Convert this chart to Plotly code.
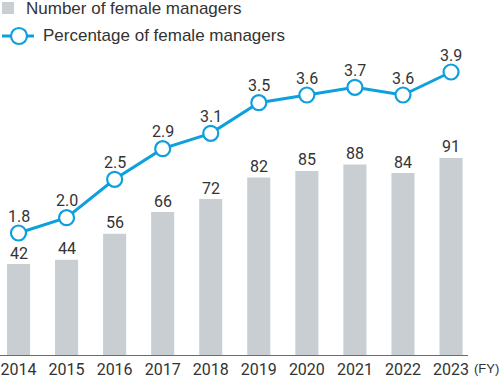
import plotly.graph_objects as go

years = ["2014", "2015", "2016", "2017", "2018", "2019", "2020", "2021", "2022", "2023"]
managers = [42, 44, 56, 66, 72, 82, 85, 88, 84, 91]
percentage = [1.8, 2.0, 2.5, 2.9, 3.1, 3.5, 3.6, 3.7, 3.6, 3.9]

BAR = "#c9ced2"
BLUE = "#0ea0dc"
TXT = "#333333"
NUM_FONT = "Roboto, Liberation Sans, sans-serif"
LEG_FONT = "Liberation Sans, Arial, Helvetica, sans-serif"

xs = list(range(len(years)))

fig = go.Figure()
fig.add_trace(go.Bar(
    x=xs, y=managers, width=0.48, marker=dict(color=BAR, line=dict(width=0)),
    showlegend=False, yaxis="y", hoverinfo="skip",
))
fig.add_trace(go.Scatter(
    x=xs, y=percentage, mode="lines+markers",
    line=dict(color=BLUE, width=3),
    marker=dict(size=15, color="white", line=dict(color=BLUE, width=2.2)),
    cliponaxis=False, showlegend=False, yaxis="y2",
))

# value labels
for x, v in zip(xs, managers):
    fig.add_annotation(x=x, y=v, xref="x", yref="y", text=str(v), showarrow=False,
                       yshift=11, font=dict(family=NUM_FONT, size=16, color=TXT))
for x, v in zip(xs, percentage):
    fig.add_annotation(x=x, y=v, xref="x", yref="y2", text=f"{v:.1f}", showarrow=False,
                       yshift=17, font=dict(family=NUM_FONT, size=16, color=TXT))

fig.update_layout(
    width=500, height=379,
    margin=dict(l=0, r=32, t=0, b=24),
    paper_bgcolor="white", plot_bgcolor="white",
    xaxis=dict(
        range=[-0.385, 9.353], tickmode="array", tickvals=xs, ticktext=years,
        showgrid=False, zeroline=False, showline=True, linecolor="#6b6b6b", linewidth=1,
        ticks="", ticklabeloverflow="allow", tickfont=dict(family=NUM_FONT, size=16, color=TXT),
    ),
    yaxis=dict(range=[0, 163.9], visible=False, showgrid=False, zeroline=False),
    yaxis2=dict(range=[0.209, 4.839], overlaying="y", visible=False, showgrid=False, zeroline=False),
)

# legend drawn manually
fig.add_shape(type="rect", xref="paper", yref="paper", x0=2/468, x1=14/468,
              y0=1-14/355, y1=1-2/355, fillcolor=BAR, line=dict(width=0))
fig.add_annotation(xref="paper", yref="paper", x=24/468, y=1-9/355, text="Number of female managers",
                   showarrow=False, xanchor="left", yanchor="middle",
                   font=dict(family=LEG_FONT, size=17, color=TXT))
fig.add_shape(type="line", xref="paper", yref="paper", x0=2/468, x1=34/468,
              y0=1-36/355, y1=1-36/355, line=dict(color=BLUE, width=3))
fig.add_shape(type="circle", xref="paper", yref="paper", x0=11/468, x1=27/468,
              y0=1-44/355, y1=1-28/355, fillcolor="white", line=dict(color=BLUE, width=2.2))
fig.add_annotation(xref="paper", yref="paper", x=41/468, y=1-36/355, text="Percentage of female managers",
                   showarrow=False, xanchor="left", yanchor="middle",
                   font=dict(family=LEG_FONT, size=17, color=TXT))
fig.add_annotation(xref="paper", yref="paper", x=500/468, y=-13/355, text="(FY)",
                   showarrow=False, xanchor="right", yanchor="middle", borderpad=0,
                   font=dict(family=LEG_FONT, size=13, color=TXT))

fig.write_html("out.html", config={"displayModeBar": False},
               post_script="document.body.style.margin='0';")
